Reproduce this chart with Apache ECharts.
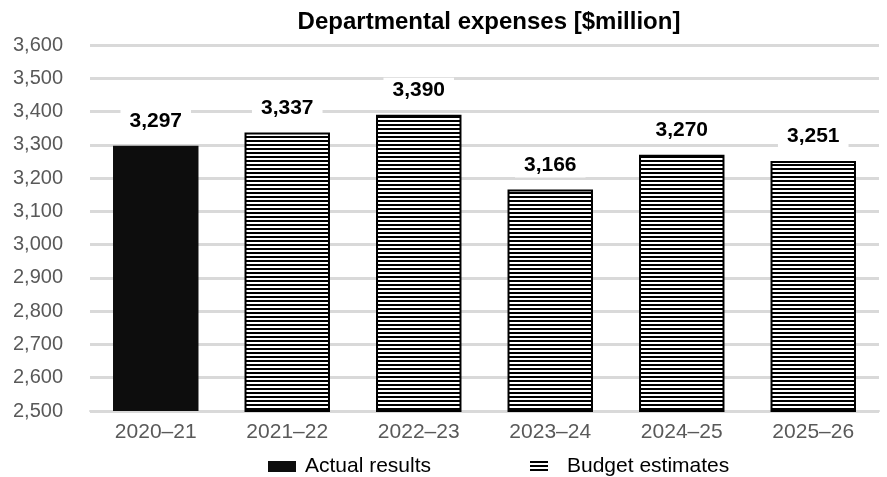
<!DOCTYPE html>
<html>
<head>
<meta charset="utf-8">
<script src="https://cdn.jsdelivr.net/npm/echarts@6/dist/echarts.min.js"></script>
<style>
  html, body { margin: 0; padding: 0; background: #fff; }
  #chart { width: 887px; height: 477px; }
</style>
</head>
<body>
<div id="chart"></div>
<script>
const categories = ["2020–21", "2021–22", "2022–23", "2023–24", "2024–25", "2025–26"];
const actualValues = [3297, null, null, null, null, null];
const budgetValues = [null, 3337, 3390, 3166, 3270, 3251];
const yTicks = { min: 2500, max: 3600, interval: 100 };

// horizontal stripe fill for the estimate bars
const stripe = document.createElement("canvas");
stripe.width = 4;
stripe.height = 4;
const sctx = stripe.getContext("2d");
sctx.fillStyle = "#fff";
sctx.fillRect(0, 0, 4, 4);
sctx.fillStyle = "#000";
sctx.fillRect(0, 0, 4, 2);
const stripeFill = { image: stripe, repeat: "repeat" };

const fmt = (v) => v.toLocaleString("en-US");

const labelStyle = {
  show: true,
  position: "top",
  distance: 12,
  color: "#000",
  fontSize: 21,
  fontWeight: "bold",
  fontFamily: "Liberation Sans, Arial, sans-serif",
  backgroundColor: "#fff",
  padding: [2, 9],
  formatter: (p) => fmt(p.value),
};

const chart = echarts.init(document.getElementById("chart"), null, { renderer: "canvas" });

chart.setOption({
  animation: false,
  textStyle: { fontFamily: "Liberation Sans, Arial, sans-serif" },
  title: {
    text: "Departmental expenses [$million]",
    left: 484,
    textAlign: "center",
    top: 5,
    textStyle: { fontSize: 24, fontWeight: "bold", color: "#000" },
  },
  legend: [
    {
      data: [{ name: "Actual results", icon: "rect" }],
      left: 268,
      top: 456,
      padding: 0,
      itemWidth: 28,
      itemHeight: 11,
      itemGap: 10,
      textStyle: { fontSize: 21, color: "#000", padding: [0, 0, 0, 4] },
    },
    {
      data: [{ name: "Budget estimates", icon: "rect" }],
      left: 530,
      top: 456,
      padding: 0,
      itemWidth: 18,
      itemHeight: 11,
      itemGap: 10,
      itemStyle: { borderWidth: 0 },
      textStyle: { fontSize: 21, color: "#000", padding: [0, 0, 0, 14] },
    },
  ],
  grid: { left: 90, right: 8, top: 45, bottom: 66, containLabel: false },
  xAxis: {
    type: "category",
    data: categories,
    axisLine: { lineStyle: { color: "#d9d9d9", width: 2 } },
    axisTick: { show: false },
    axisLabel: { color: "#595959", fontSize: 21, margin: 11 },
  },
  yAxis: {
    type: "value",
    min: yTicks.min,
    max: yTicks.max,
    interval: yTicks.interval,
    axisLine: { show: false },
    axisTick: { show: false },
    axisLabel: { color: "#595959", fontSize: 20, margin: 27, formatter: fmt },
    splitLine: { lineStyle: { color: "#d9d9d9", width: 3 } },
  },
  series: [
    {
      name: "Actual results",
      type: "bar",
      data: actualValues,
      barWidth: "65%",
      barGap: "-100%",
      itemStyle: { color: "#0d0d0d" },
      label: labelStyle,
    },
    {
      name: "Budget estimates",
      type: "bar",
      data: budgetValues,
      barWidth: "65%",
      itemStyle: { color: stripeFill, borderColor: "#000", borderWidth: 2 },
      label: labelStyle,
    },
  ],
});
</script>
</body>
</html>
